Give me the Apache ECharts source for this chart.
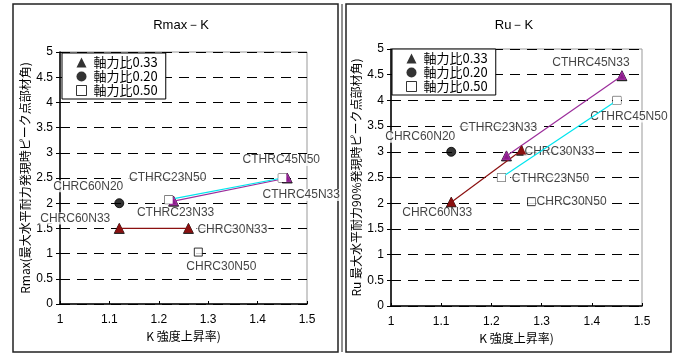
<!DOCTYPE html>
<html>
<head>
<meta charset="utf-8">
<script src="https://cdn.jsdelivr.net/npm/echarts@6/dist/echarts.min.js"></script>
<style>
  html, body { margin: 0; padding: 0; background: #fff; }
  #chart { width: 679px; height: 356px; }
</style>
</head>
<body>
<div id="chart"></div>
<script>
// Specimens and their measured values
const specimens  = ['CHRC60N33', 'CHRC30N33', 'CTHRC23N33', 'CTHRC45N33', 'CHRC60N20', 'CTHRC23N50', 'CTHRC45N50', 'CHRC30N50'];
const kRatio     = [1.12, 1.26, 1.23, 1.46, 1.12, 1.22, 1.45, 1.28];
const rmaxValues = [1.5, 1.5, 2.04, 2.5, 2.0, 2.07, 2.5, 1.03];
const ruValues   = [2.02, 3.03, 2.92, 4.48, 3.0, 2.5, 4.0, 2.03];
const axialGroup = ['0.33', '0.33', '0.33', '0.33', '0.20', '0.50', '0.50', '0.50'];
const groupNames = ['軸力比0.33', '軸力比0.20', '軸力比0.50'];
const linkedPairs = [['CHRC60N33', 'CHRC30N33'], ['CTHRC23N33', 'CTHRC45N33'], ['CTHRC23N50', 'CTHRC45N50']];
const yTicks = [0, 0.5, 1, 1.5, 2, 2.5, 3, 3.5, 4, 4.5, 5];
const xTicks = [1, 1.1, 1.2, 1.3, 1.4, 1.5];

// Label offsets (label centre relative to the marker), per panel
const labelOffsetRmax = {
  CTHRC45N50: [-1, -18], CTHRC23N50: [-1, -22], CHRC60N20: [-31, -17], CHRC60N33: [-44, -10],
  CTHRC23N33: [2, 12], CHRC30N33: [44, 1], CTHRC45N33: [14, 17], CHRC30N50: [23, 15]
};
const labelOffsetRu = {
  CTHRC45N33: [-31, -13], CTHRC45N50: [12, 16], CTHRC23N33: [-8, -28], CHRC60N20: [-31, -15],
  CHRC30N33: [38, 1], CTHRC23N50: [49, 1], CHRC30N50: [40, 0], CHRC60N33: [-14, 11]
};

const FONT = '"Liberation Sans", Arial, sans-serif';
const CJK = '"Noto Sans CJK JP", "Noto Sans", sans-serif';

const groupStyle = {
  '0.33': { symbol: 'triangle', size: 10, color: '#000', border: '#000' },
  '0.20': { symbol: 'circle', size: 9, color: '#000', border: '#000' },
  '0.50': { symbol: 'rect', size: 8, color: '#fff', border: '#000' }
};
const pairStyle = [
  { color: '#8b1010', symbol: 'triangle', size: 7, fill: '#8b1010' },
  { color: '#9b2d9b', symbol: 'triangle', size: 7, fill: '#8b1a8b' },
  { color: '#00e5ee', symbol: 'emptyRect', size: 6, fill: '#fff' }
];

function indexOf(name) { return specimens.indexOf(name); }

function buildSeries(values, offsets, axisIdx) {
  const out = [];
  // connecting lines between paired specimens
  linkedPairs.forEach((pair, p) => {
    const st = pairStyle[p];
    out.push({
      type: 'line', name: 'pair' + axisIdx + '_' + p,
      xAxisIndex: axisIdx, yAxisIndex: axisIdx,
      data: pair.map(n => [kRatio[indexOf(n)], values[indexOf(n)]]),
      symbol: st.symbol, symbolSize: st.size, showAllSymbol: true,
      lineStyle: { color: st.color, width: 1.2 },
      itemStyle: { color: st.fill, borderColor: st.color, borderWidth: 1.5 },
      z: 3, silent: true, animation: false
    });
  });
  // markers per axial-force ratio, with specimen labels
  ['0.33', '0.20', '0.50'].forEach((g, gi) => {
    const st = groupStyle[g];
    const data = [];
    specimens.forEach((name, i) => {
      if (axialGroup[i] !== g) return;
      data.push({
        name: name,
        value: [kRatio[i], values[i]],
        label: { offset: offsets[name] }
      });
    });
    out.push({
      type: 'scatter', name: groupNames[gi],
      xAxisIndex: axisIdx, yAxisIndex: axisIdx,
      symbol: st.symbol, symbolSize: st.size,
      itemStyle: { color: st.color, borderColor: st.border, borderWidth: 1 },
      data: data,
      z: 2, animation: false,
      label: {
        show: true, position: 'inside', formatter: '{b}',
        fontFamily: FONT, fontSize: 12, color: '#111',
        backgroundColor: '#fff', padding: [0, 1],
        align: 'center', verticalAlign: 'middle'
      }
    });
  });
  return out;
}

function legendFor(left, top) {
  return {
    orient: 'vertical', left: left, top: top,
    backgroundColor: '#fff', borderColor: '#000', borderWidth: 1,
    padding: [3, 8, 2, 14], itemGap: 1, itemWidth: 10, itemHeight: 10,
    selectedMode: false,
    textStyle: { fontFamily: CJK, fontSize: 13, color: '#000', padding: [0, 0, 0, 2] },
    data: [
      { name: groupNames[0], icon: 'triangle', itemStyle: { color: '#000', borderWidth: 0 } },
      { name: groupNames[1], icon: 'circle', itemStyle: { color: '#000', borderWidth: 0 } },
      { name: groupNames[2], icon: 'rect', itemStyle: { color: '#fff', borderColor: '#000', borderWidth: 1 } }
    ]
  };
}

function xAxisFor(gridIndex) {
  return {
    type: 'value', gridIndex: gridIndex, min: 1, max: 1.5, interval: 0.1,
    name: 'K 強度上昇率)', nameLocation: 'middle', nameGap: 24,
    nameTextStyle: { fontFamily: CJK, fontSize: 12, color: '#000' },
    axisLine: { show: true, lineStyle: { color: '#000', width: 1.5 } },
    axisTick: { show: true, inside: true, length: 3, lineStyle: { color: '#000' } },
    axisLabel: { fontFamily: FONT, fontSize: 12, color: '#000', margin: 10,
                 formatter: v => xTicks.includes(+v.toFixed(1)) ? String(+v.toFixed(1)) : '' },
    splitLine: { show: false }
  };
}

function yAxisFor(gridIndex, title) {
  return {
    type: 'value', gridIndex: gridIndex, min: 0, max: 5, interval: 0.5,
    name: title, nameLocation: 'middle', nameGap: 29,
    nameTextStyle: { fontFamily: CJK, fontSize: 12, color: '#000' },
    axisLine: { show: true, lineStyle: { color: '#000', width: 1.5 } },
    axisTick: { show: true, length: 4, lineStyle: { color: '#000' } },
    axisLabel: { fontFamily: FONT, fontSize: 12, color: '#000', margin: 7,
                 formatter: v => yTicks.includes(+v.toFixed(1)) ? String(+v.toFixed(1)) : '' },
    splitLine: { show: true, lineStyle: { color: '#000', type: [10, 7], width: 1 } }
  };
}

const chart = echarts.init(document.getElementById('chart'), null, { renderer: 'canvas' });
chart.setOption({
  backgroundColor: '#fff',
  animation: false,
  title: [
    { text: 'Rmax－K', left: 176, top: 14, textAlign: 'center',
      textStyle: { fontFamily: FONT, fontSize: 13, fontWeight: 'normal', color: '#000' } },
    { text: 'Ru－K', left: 509, top: 14, textAlign: 'center',
      textStyle: { fontFamily: FONT, fontSize: 13, fontWeight: 'normal', color: '#000' } }
  ],
  graphic: [
    { type: 'rect', shape: { x: 13, y: 4, width: 325, height: 348 },
      style: { fill: null, stroke: '#222', lineWidth: 1.5 }, z: 0, silent: true },
    { type: 'rect', shape: { x: 346, y: 4, width: 325, height: 348 },
      style: { fill: null, stroke: '#222', lineWidth: 1.5 }, z: 0, silent: true },
    { type: 'line', shape: { x1: 342, y1: 4, x2: 342, y2: 352 },
      style: { stroke: '#222', lineWidth: 1 }, z: 0, silent: true }
  ],
  grid: [
    { left: 60, top: 52, width: 247, height: 252, show: true, borderColor: '#999', borderWidth: 1, backgroundColor: 'transparent' },
    { left: 391, top: 49, width: 251, height: 257, show: true, borderColor: '#999', borderWidth: 1, backgroundColor: 'transparent' }
  ],
  legend: [legendFor(62, 53), legendFor(392, 49)],
  xAxis: [xAxisFor(0), xAxisFor(1)],
  yAxis: [
    yAxisFor(0, 'Rmax(最大水平耐力発現時ピーク点部材角)'),
    yAxisFor(1, 'Ru 最大水平耐力90%発現時ピーク点部材角)')
  ],
  series: [
    ...buildSeries(rmaxValues, labelOffsetRmax, 0),
    ...buildSeries(ruValues, labelOffsetRu, 1)
  ]
});
</script>
</body>
</html>
